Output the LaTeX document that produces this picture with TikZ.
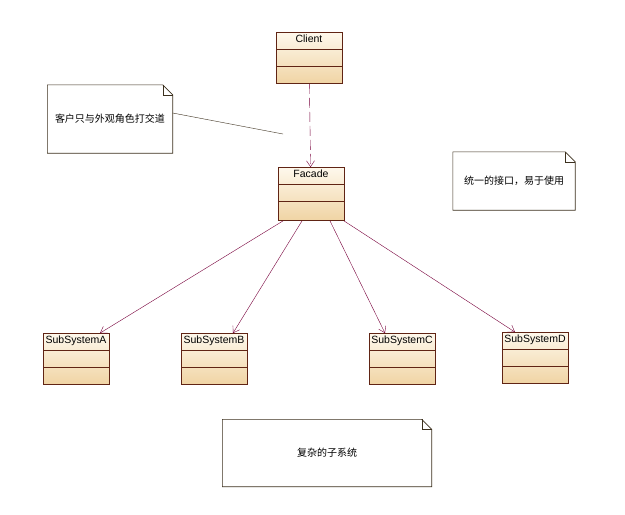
\documentclass[tikz,border=0pt]{standalone}
\usepackage{fontspec}
\setmainfont{Liberation Sans}
\newfontfamily\cjk{Noto Sans CJK SC}
\usetikzlibrary{arrows.meta}

\definecolor{classline}{RGB}{96,36,20}
\definecolor{classtop}{RGB}{254,248,236}
\definecolor{classbot}{RGB}{240,212,164}
\definecolor{linkline}{RGB}{120,0,60}
\definecolor{noteline}{RGB}{60,48,30}

\tikzset{
  umlclass/.style={draw=classline, thick, top color=classtop, bottom color=classbot,
    minimum width=66, minimum height=51, inner sep=0pt,
    path picture={
      \draw[classline] ([yshift=-17]path picture bounding box.north west) -- ([yshift=-17]path picture bounding box.north east);
      \draw[classline] ([yshift=-34]path picture bounding box.north west) -- ([yshift=-34]path picture bounding box.north east);
    },
    label={[anchor=north, inner sep=3pt, font=\fontsize{10.5}{12}\selectfont]north:#1}},
  notebox/.style={inner sep=0pt, font=\cjk\fontsize{10}{12}\selectfont},
  link/.style={draw=linkline, -{Straight Barb[length=6, width=8]}},
}

% note outline with a folded corner
\newcommand{\noteframe}[1]{%
  \draw[noteline, semithick] (#1.north west) -- ([xshift=-10]#1.north east) -- ([yshift=-10]#1.north east)
    -- (#1.south east) -- (#1.south west) -- cycle;
  \draw[noteline] ([xshift=-10]#1.north east) |- ([yshift=-10]#1.north east);
}

\begin{document}
\begin{tikzpicture}[x=1pt, y=-1pt]
\useasboundingbox[fill=white] (0,0) rectangle (625,515);

% classes
\node[umlclass=Client] (client) at (309,58) {};
\node[umlclass=Facade, minimum height=53] (facade) at (311,194) {};
\node[umlclass=SubSystemA] (subA) at (76,359) {};
\node[umlclass=SubSystemB] (subB) at (214,359) {};
\node[umlclass=SubSystemC] (subC) at (402,359) {};
\node[umlclass=SubSystemD] (subD) at (535,358) {};

% notes
\node[notebox, minimum width=125, minimum height=68] (note1) at (110,119) {客户只与外观角色打交道};
\node[notebox, minimum width=122, minimum height=58] (note2) at (514,181) {统一的接口，易于使用};
\node[notebox, minimum width=209, minimum height=67] (note3) at (327,453) {复杂的子系统};
\noteframe{note1}
\noteframe{note2}
\noteframe{note3}

% links
\draw[link, dash pattern=on 10 off 4] (client) -- (facade);
\draw[link] ([xshift=-28]facade.south) -- ([xshift=24]subA.north);
\draw[link] ([xshift=-9]facade.south) -- ([xshift=19]subB.north);
\draw[link] ([xshift=19]facade.south) -- ([xshift=-17]subC.north);
\draw[link] ([xshift=33]facade.south) -- ([xshift=-20]subD.north);

\coordinate (anchorpt) at (283,134);
\draw[noteline] ([yshift=6]note1.east) -- (anchorpt);
\end{tikzpicture}
\end{document}
